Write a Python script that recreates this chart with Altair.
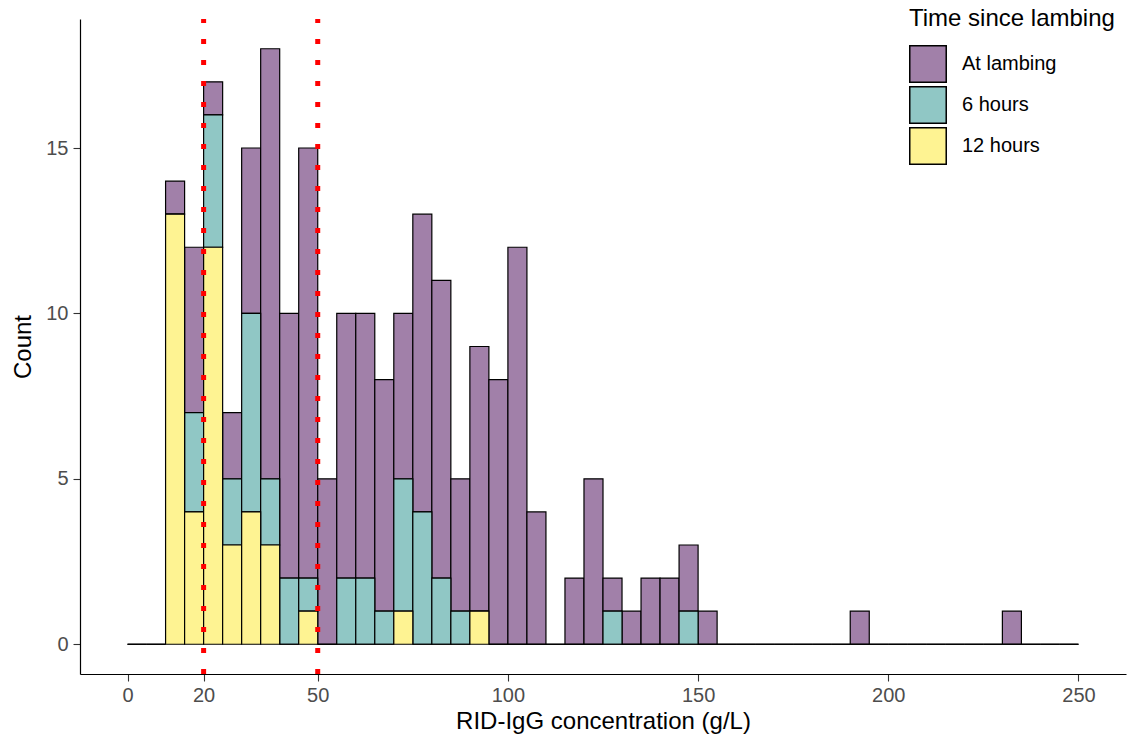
import altair as alt
import pandas as pd

# Histogram bins (left edges, width 5 g/L) from 0 to 250
bin_starts = list(range(0, 250, 5))
bin_width = 5

at_lambing = [0, 0, 1, 5, 1, 2, 5, 13, 8, 13,
              5, 8, 8, 7, 5, 9, 9, 4, 8, 8,
              12, 4, 0, 2, 5, 1, 1, 2, 2, 2,
              1, 0, 0, 0, 0, 0, 0, 0, 1, 0,
              0, 0, 0, 0, 0, 0, 1, 0, 0, 0]
six_hours = [0, 0, 0, 3, 4, 2, 6, 2, 2, 1,
             0, 2, 2, 1, 4, 4, 2, 1, 0, 0,
             0, 0, 0, 0, 0, 1, 0, 0, 0, 1,
             0, 0, 0, 0, 0, 0, 0, 0, 0, 0,
             0, 0, 0, 0, 0, 0, 0, 0, 0, 0]
twelve_hours = [0, 0, 13, 4, 12, 3, 4, 3, 0, 1,
                0, 0, 0, 0, 1, 0, 0, 0, 1, 0,
                0, 0, 0, 0, 0, 0, 0, 0, 0, 0,
                0, 0, 0, 0, 0, 0, 0, 0, 0, 0,
                0, 0, 0, 0, 0, 0, 0, 0, 0, 0]

groups = ["At lambing", "6 hours", "12 hours"]
colors = ["#A180A9", "#90C7C5", "#FEF392"]
stack_rank = {"12 hours": 0, "6 hours": 1, "At lambing": 2}
cutoffs = [20, 50]
x_ticks = [0, 20, 50, 100, 150, 200, 250]
y_ticks = [0, 5, 10, 15]

rows = []
for g, vals in zip(groups, [at_lambing, six_hours, twelve_hours]):
    for b, c in zip(bin_starts, vals):
        rows.append({"bin_start": b, "bin_end": b + bin_width, "group": g,
                     "count": c, "rank": stack_rank[g]})
df = pd.DataFrame(rows)
rule_df = pd.DataFrame({"cut": cutoffs})

W, H = 1046, 655
xscale = alt.Scale(domain=[-12.5, 262.5], nice=False, zero=False, padding=0)
yscale = alt.Scale(domain=[-0.9, 18.9], nice=False, zero=False, padding=0)

bars = alt.Chart(df).mark_bar(orient="vertical", stroke="black", strokeWidth=1.2,
                              opacity=1).encode(
    x=alt.X("bin_start:Q", scale=xscale,
            axis=alt.Axis(values=x_ticks, title="RID-IgG concentration (g/L)",
                          labelPadding=4, titlePadding=4)),
    x2="bin_end:Q",
    y=alt.Y("count:Q", stack="zero", scale=yscale,
            axis=alt.Axis(values=y_ticks, title="Count", labelPadding=5, titlePadding=10)),
    color=alt.Color("group:N", scale=alt.Scale(domain=groups, range=colors),
                    legend=alt.Legend(title="Time since lambing", orient="none",
                                      legendX=829, legendY=-12,
                                      symbolType="square", symbolSize=1330,
                                      symbolStrokeColor="black", symbolStrokeWidth=1.5,
                                      symbolOpacity=1,
                                      labelFontSize=20, titleFontSize=24,
                                      labelFont="Liberation Sans", titleFont="Liberation Sans",
                                      labelColor="black", titleColor="black",
                                      titleFontWeight="normal", titleLimit=400,
                                      rowPadding=-3.5, labelOffset=15, titlePadding=14,
                                      padding=0)),
    order=alt.Order("rank:Q", sort="ascending"),
)

rules = alt.Chart(rule_df).mark_rule(color="red", strokeWidth=5, strokeDash=[5, 16],
                                     strokeCap="butt").encode(
    x=alt.X("cut:Q", scale=xscale),
    y=alt.value(H),
    y2=alt.value(0),
)

chart = alt.layer(bars, rules).properties(
    width=W, height=H,
    autosize=alt.AutoSizeParams(type="none"),
    padding={"left": 80, "top": 19, "right": 5, "bottom": 68},
).configure_view(stroke=None).configure_axis(
    grid=False, domainColor="black", domainWidth=1.2,
    tickColor="#333333", tickSize=7, tickWidth=1.1,
    labelColor="#4D4D4D", labelFont="Liberation Sans", labelFontSize=20,
    titleFont="Liberation Sans", titleFontSize=24, titleFontWeight="normal",
    titleColor="black",
)

chart.save("out.html", embed_options={"renderer": "svg", "actions": False})
